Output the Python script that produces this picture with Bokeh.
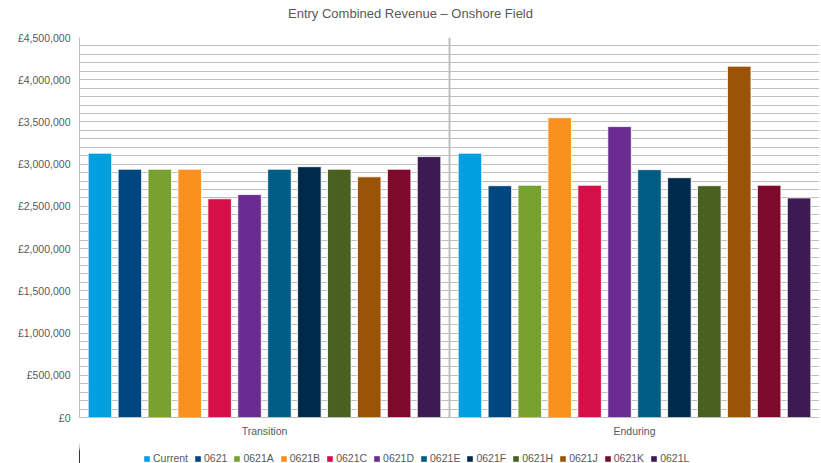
from bokeh.plotting import figure
from bokeh.layouts import column
from bokeh.models import (ColumnDataSource, FactorRange, Range1d, Legend, LegendItem,
                          SingleIntervalTicker, CustomJSTickFormatter, Span, Label)
from bokeh.transform import dodge
from bokeh.embed import file_html
from bokeh.resources import INLINE

# ---- data ----
groups = ["Transition", "Enduring"]
series = ["Current", "0621", "0621A", "0621B", "0621C", "0621D",
          "0621E", "0621F", "0621H", "0621J", "0621K", "0621L"]
transition = [3130000, 2940000, 2940000, 2940000, 2590000, 2640000,
              2940000, 2970000, 2940000, 2850000, 2940000, 3090000]
enduring = [3130000, 2745000, 2750000, 3550000, 2750000, 3445000,
            2935000, 2840000, 2745000, 4160000, 2750000, 2600000]
colors = ["#009FDF", "#00467F", "#78A22F", "#F7901E", "#D50F47", "#6A2C91",
          "#005C84", "#002A4C", "#486120", "#9B5306", "#7D0A2C", "#3E1A55"]
title_text = "Entry Combined Revenue \u2013 Onshore Field"

data = {"group": groups}
for i, s in enumerate(series):
    data[s] = [transition[i], enduring[i]]
source = ColumnDataSource(data)

TXT = "#595959"
GRID = "#BFBFBF"
FONT = "Liberation Sans"
FW, FH = 740, 380
LEFT = 79
TOTAL_W = LEFT + FW

# ---- title strip (frame aligned with the chart's frame) ----
pt = figure(width=TOTAL_W, height=30, x_range=Range1d(0, 1), y_range=Range1d(0, 1),
            x_axis_type=None, y_axis_type=None, toolbar_location=None,
            output_backend="svg", min_border=0)
pt.outline_line_color = None
pt.add_layout(Label(x=331, y=17, x_units="screen", y_units="screen", text=title_text,
                    text_align="center", text_baseline="middle", text_font=FONT,
                    text_font_size="13px", text_color=TXT))

# ---- main chart ----
p = figure(frame_width=FW, frame_height=FH, output_backend="svg", toolbar_location=None,
           x_range=FactorRange(factors=groups, range_padding=0),
           y_range=Range1d(0, 4500000),
           min_border_left=LEFT, min_border_right=0, min_border_top=7, min_border_bottom=0)
p.outline_line_color = None
p.background_fill_color = "white"
p.border_fill_color = "white"

step = 0.08086
width = 0.0636
renderers = []
for i, s in enumerate(series):
    off = -5.5 * step + i * step
    r = p.vbar(x=dodge("group", off, range=p.x_range), top=s, width=width,
               source=source, fill_color=colors[i], line_color="white", line_width=0.8)
    renderers.append(r)

p.yaxis.ticker = SingleIntervalTicker(interval=500000, num_minor_ticks=5)
p.yaxis.formatter = CustomJSTickFormatter(code="return '\u00a3' + Math.round(tick).toLocaleString('en-GB');")
p.yaxis.major_label_text_font = FONT
p.yaxis.major_label_text_font_size = "10.5px"
p.yaxis.major_label_text_color = TXT
p.yaxis.major_label_standoff = 9
p.yaxis.axis_line_color = GRID
p.yaxis.major_tick_out = 0
p.yaxis.minor_tick_out = 0
p.yaxis.major_tick_line_color = None
p.yaxis.minor_tick_line_color = None

p.ygrid.grid_line_color = GRID
p.ygrid.minor_grid_line_color = GRID
p.xgrid.grid_line_color = None

p.xaxis.major_label_text_font = FONT
p.xaxis.major_label_text_font_size = "10.5px"
p.xaxis.major_label_text_color = TXT
p.xaxis.major_label_standoff = 7
p.xaxis.axis_line_color = GRID
p.xaxis.major_tick_out = 0
p.xaxis.minor_tick_out = 0
p.xaxis.major_tick_line_color = None
p.xaxis.minor_tick_line_color = None

p.add_layout(Span(location=1.0, dimension="height", line_color=GRID, line_width=2))

# ---- legend strip (proxy bars lie outside its visible range) ----
pl = figure(width=TOTAL_W, height=26, x_range=Range1d(0, 1), y_range=Range1d(0, 5000000),
            x_axis_type=None, y_axis_type=None, toolbar_location=None,
            output_backend="svg", min_border=0)
pl.outline_line_color = None
leg_renderers = [pl.vbar(x=-1, top=s, width=0.5, source=source, fill_color=c,
                         line_color=None)
                 for s, c in zip(series, colors)]
legend = Legend(items=[LegendItem(label=s, renderers=[r]) for s, r in zip(series, leg_renderers)],
                orientation="horizontal", location=(64, 1),
                glyph_width=7, glyph_height=7, label_standoff=3, spacing=6,
                padding=0, margin=0, label_height=12,
                border_line_color=None, background_fill_alpha=0,
                label_text_font=FONT, label_text_font_size="10.5px", label_text_color=TXT)
pl.add_layout(legend)

layout = column(pt, p, pl, spacing=0)
open("out.html", "w").write(file_html(layout, INLINE))
